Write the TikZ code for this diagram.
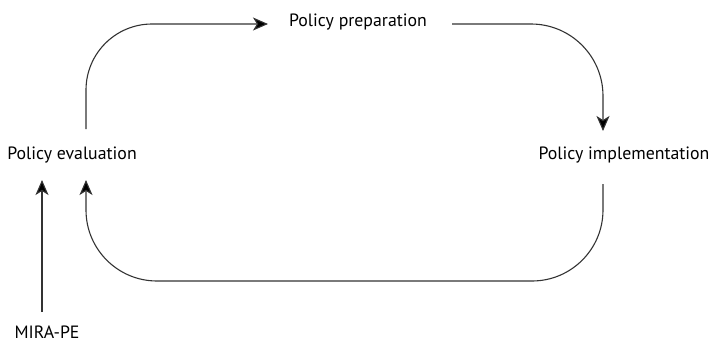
\documentclass[tikz,border=0pt]{standalone}
\usepackage{fontspec}
\setmainfont{PT Sans}
\usetikzlibrary{arrows.meta}
\begin{document}
\begin{tikzpicture}[x=1pt,y=-1pt,
  lbl/.style={inner sep=0pt,font=\fontsize{17.8}{20}\selectfont},
  flow/.style={draw=black!80,line width=1.1pt,-{Stealth[length=15pt,width=13pt,inset=4pt,fill=black]}}]
\useasboundingbox (0,0) rectangle (713,343);
\node[lbl] (prep) at (358,22) {Policy preparation};
\node[lbl] (impl) at (624,155) {Policy implementation};
\node[lbl] (eval) at (72,155) {Policy evaluation};
\node[lbl] (mira) at (47,332) {MIRA-PE};
\coordinate (a1) at (86,129);
\coordinate (a2) at (268,24);
\coordinate (b1) at (452,24);
\coordinate (b2) at (603,131);
\coordinate (c1) at (603,184);
\coordinate (c2) at (86,281);
\coordinate (c3) at (86,180);
\coordinate (m1) at (42,312);
\coordinate (m2) at (42,180);
\draw[flow,rounded corners=66pt] (a1) |- (a2);
\draw[flow,rounded corners=72pt] (b1) -| (b2);
\draw[flow,rounded corners=71pt] (c1) |- (c2) -- (c3);
\draw[flow] (m1) -- (m2);
\end{tikzpicture}
\end{document}
